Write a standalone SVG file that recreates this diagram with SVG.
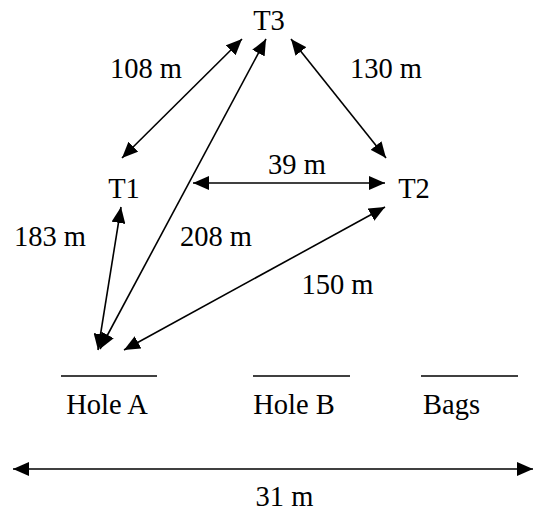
<svg xmlns="http://www.w3.org/2000/svg" width="534" height="512" viewBox="0 0 534 512">
<style>
.t{font-family:'Liberation Serif','Times New Roman',serif;font-size:28.5px;fill:#000;text-anchor:middle}
.c{stroke:#000;stroke-width:1.6;fill:none;marker-start:url(#ah);marker-end:url(#ah)}
.u{stroke:#000;stroke-width:1.6}
</style>
<defs>
<marker id="ah" markerUnits="userSpaceOnUse" markerWidth="17" markerHeight="14" refX="16" refY="7" orient="auto-start-reverse" viewBox="0 0 17 14">
<path d="M0,0 L16,7 L0,14 z" fill="#000"/>
</marker>
</defs>
<g id="T3"><text class="t" x="269" y="30">T3</text></g>
<g id="T1"><text class="t" x="124" y="198">T1</text></g>
<g id="T2"><text class="t" x="414" y="198">T2</text></g>
<g id="HoleA"><line class="u" x1="61" y1="376" x2="157" y2="376"/><text class="t" x="107" y="414">Hole A</text></g>
<g id="HoleB"><line class="u" x1="253" y1="376" x2="350" y2="376"/><text class="t" x="294" y="414">Hole B</text></g>
<g id="Bags"><line class="u" x1="421" y1="376" x2="518" y2="376"/><text class="t" x="451.5" y="414">Bags</text></g>
<g id="connectors">
<line class="c" x1="122" y1="158" x2="242" y2="39"/>
<line class="c" x1="291" y1="39" x2="386" y2="158"/>
<line class="c" x1="193" y1="183" x2="385" y2="183"/>
<line class="c" x1="121" y1="207" x2="98" y2="350"/>
<line class="c" x1="266" y1="39" x2="100" y2="349"/>
<line class="c" x1="385" y1="207" x2="124" y2="350"/>
<line class="c" x1="13" y1="469" x2="533" y2="469"/>
</g>
<g id="labels">
<text class="t" x="146" y="78">108 m</text>
<text class="t" x="386" y="78">130 m</text>
<text class="t" x="297" y="174">39 m</text>
<text class="t" x="50" y="246">183 m</text>
<text class="t" x="216" y="246">208 m</text>
<text class="t" x="337.5" y="294">150 m</text>
<text class="t" x="284.5" y="506">31 m</text>
</g>
</svg>
